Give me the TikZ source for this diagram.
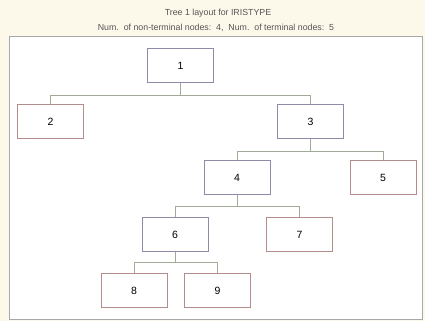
\documentclass[tikz,border=0pt]{standalone}
\usepackage{fontspec}
\setmainfont{Liberation Sans}
\usepackage{xcolor}
\usepackage{tikz}

\definecolor{paper}{HTML}{FCF8EA}
\definecolor{panelline}{HTML}{A8A8A8}
\definecolor{innerline}{HTML}{8C8CA8}
\definecolor{leafline}{HTML}{B48C8C}
\definecolor{linkline}{HTML}{A0AA96}
\definecolor{titletext}{HTML}{555555}

\tikzset{
    inner/.style={draw=innerline, line width=0.9pt, fill=white, minimum width=66pt, minimum height=34pt, inner sep=0pt, font=\fontsize{10.5}{12}\selectfont},
    leaf/.style={inner, draw=leafline},
    link/.style={draw=linkline, line width=0.8pt},
    heading/.style={text=titletext, inner sep=0pt, font=\fontsize{8.8}{10}\selectfont}
}

\begin{document}
\begin{tikzpicture}[x=1pt, y=-1pt]
    \fill[paper] (0,0) rectangle (425,321);
    \useasboundingbox (0,0) rectangle (425,321);
    \draw[panelline, fill=white, line width=0.9pt] (9,36) rectangle (422,319);

    \node[heading] (title) at (218,13.5) {Tree 1 layout for IRISTYPE};
    \node[heading] (counts) at (216,27.5) {Num.\ \ of non-terminal nodes:\ \ 4,\ \ Num.\ \ of terminal nodes:\ \ 5};

    \node[inner] (N1) at (180.5,65.5) {1};
    \node[leaf] (N2) at (50.5,121.5) {2};
    \node[inner] (N3) at (310.5,121.5) {3};
    \node[inner] (N4) at (237,177.5) {4};
    \node[leaf] (N5) at (383,177.5) {5};
    \node[inner] (N6) at (175,234.5) {6};
    \node[leaf] (N7) at (299.5,234.5) {7};
    \node[leaf] (N8) at (134,290.5) {8};
    \node[leaf] (N9) at (217.5,290.5) {9};

    \draw[link] (N1.south) -- ++(0,12) -| (N2.north);
    \draw[link] (N1.south) -- ++(0,12) -| (N3.north);
    \draw[link] (N3.south) -- ++(0,12) -| (N4.north);
    \draw[link] (N3.south) -- ++(0,12) -| (N5.north);
    \draw[link] (N4.south) -- ++(0,11) -| (N6.north);
    \draw[link] (N4.south) -- ++(0,11) -| (N7.north);
    \draw[link] (N6.south) -- ++(0,10) -| (N8.north);
    \draw[link] (N6.south) -- ++(0,10) -| (N9.north);
\end{tikzpicture}
\end{document}
